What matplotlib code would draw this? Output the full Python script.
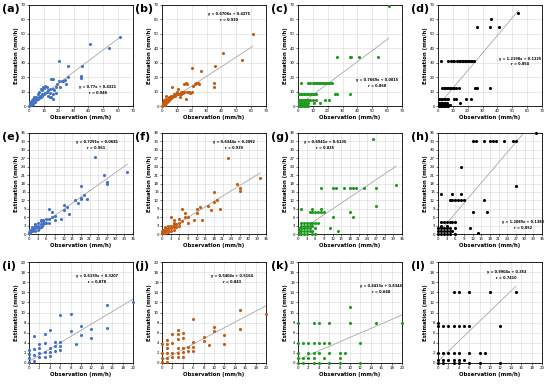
import matplotlib.pyplot as plt

# ---- data (obs, est) per panel ----
obs_a = [0.2, 0.5, 0.8, 1, 1, 1.5, 1.5, 2, 2, 2.5, 2.5, 3, 3, 3.5, 3.5, 4, 4, 4.5, 5, 5, 5.5, 6, 6,
         6.5, 7, 7, 7.5, 8, 8, 8.5, 9, 9, 9.5, 10, 10, 11, 11, 12, 12, 13, 13, 14, 14, 14, 15, 15,
         16, 16, 16, 16, 17, 18, 18, 19, 20, 20, 21, 22, 23, 24, 25, 26, 26, 35, 35, 36, 41, 54, 61]
est_a = [0.3, 1.0, 0.5, 1.5, 2.5, 1, 3, 2, 4, 1.5, 3, 2.5, 5, 3.5, 6, 3, 4.5, 5, 4, 6, 5, 5, 8,
         6, 5.5, 10, 7, 6.5, 12, 8, 7, 11, 13, 8, 12.5, 9, 14, 10, 13, 7, 11, 9, 12, 6, 6, 19,
         8, 19, 12, 5, 11, 13, 9, 15, 31, 17, 13, 17, 17.5, 18, 15, 20, 28, 21, 19.5, 28, 43, 40, 48]

obs_b = [0.2, 0.5, 0.8, 1, 1, 1.5, 1.5, 2, 2, 2.5, 2.5, 3, 3, 3.5, 4, 4, 4.5, 5, 5, 5.5, 6, 6,
         6.5, 7, 7, 7.5, 8, 8, 9, 9, 10, 10, 11, 11, 12, 12, 13, 13, 14, 14, 15, 15, 16, 16, 17,
         17, 18, 19, 20, 20, 21, 22, 23, 24, 25, 26, 35, 35, 36, 41, 54, 61]
est_b = [0.2, 0.8, 1.5, 0.5, 2.5, 1.5, 4, 1, 3, 2, 5, 2.5, 7, 3, 3.5, 5, 4, 4.5, 6, 5, 5.5, 7,
         6, 6, 13, 7, 7, 8, 7, 8, 8, 10, 8, 12, 6, 8.5, 8, 10, 9, 10, 10, 15, 5, 16, 10,
         15, 10, 9, 26, 10, 14, 15, 16, 16, 15, 24, 16, 13, 28, 37, 32, 50]

obs_c = [61, 26, 35, 36, 41, 54,
         2, 7, 8, 10, 11, 12, 13, 14, 15, 16, 17, 18, 19, 20, 21, 22, 23,
         1, 2, 3, 4, 5, 6, 7, 8, 9, 10, 11, 12, 25, 26, 35,
         1, 2, 3, 4, 5, 6, 7, 8, 10, 12, 18, 21,
         1, 2, 3, 4, 5, 6, 7, 11, 15,
         1, 2, 3, 4, 5, 6,
         1, 2, 3, 4, 5, 6, 7]
est_c = [69, 34, 34, 34, 34, 34,
         16, 16, 16, 16, 16, 16, 16, 16, 16, 16, 16, 16, 16, 16, 16, 16, 16,
         8, 8, 8, 8, 8, 8, 8, 8, 8, 8, 8, 8, 8, 8, 8,
         4, 4, 4, 4, 4, 4, 4, 4, 4, 4, 4, 4,
         2, 2, 2, 2, 2, 2, 2, 2, 2,
         1, 1, 1, 1, 1, 1,
         0, 0, 0, 0, 0, 0, 0]

obs_d = [54, 36, 26, 35, 41,
         2, 7, 9, 10, 11, 13, 14, 15, 16, 17, 18, 19, 20, 21, 22, 23, 24,
         3, 4, 5, 6, 7, 8, 9, 10, 11, 12, 14, 25, 26, 35,
         1, 2, 3, 4, 5, 6, 7, 11, 12, 19, 22,
         1, 2, 3, 4, 5, 6, 15,
         1, 2, 3, 4, 5, 6, 7, 8,
         1, 2, 3, 4, 5, 6, 7]
est_d = [64.5, 60, 54.5, 54.5, 54.5,
         31, 31, 31, 31, 31, 31, 31, 31, 31, 31, 31, 31, 31, 31, 31, 31, 31,
         12.5, 12.5, 12.5, 12.5, 12.5, 12.5, 12.5, 12.5, 12.5, 12.5, 12.5, 12.5, 12.5, 12.5,
         5, 5, 5, 5, 5, 5, 5, 5, 5, 5, 5,
         2, 2, 2, 2, 2, 2, 2,
         1, 1, 1, 1, 1, 1, 1, 1,
         0, 0, 0, 0, 0, 0, 0]

obs_e = [0, 0, 0.5, 0.5, 1, 1, 1, 1.5, 2, 2, 2, 2, 2.5, 3, 3, 3, 3, 3.5, 4, 4, 4, 4, 4.5, 5, 5,
         5, 5.5, 6, 6, 7, 7, 7, 8, 8, 9, 9, 11, 12, 12, 13, 14, 16, 17, 18, 18, 18, 19, 20, 23,
         26, 27, 27, 34]
est_e = [0.2, 0.8, 1.5, 0.5, 1, 2, 2.5, 1.5, 1, 2, 3, 3.5, 2.5, 1.5, 2.5, 3, 4, 2, 2.5, 3.5, 4.5,
         5, 3, 3.5, 4.5, 5, 4, 4, 5.5, 5.5, 9, 4, 6, 8, 5, 6.5, 5.5, 8.5, 10.5, 9.5, 7, 12, 11,
         12.5, 17, 13, 14, 12.5, 27.5, 21, 18, 18.5, 22]

obs_f = [0, 0, 0, 0.5, 1, 1, 1, 1, 2, 2, 2, 2, 3, 3, 3, 3, 4, 4, 4, 4, 4, 4, 5, 5, 6, 6, 6, 7,
         7, 8, 8, 9, 9, 11, 12, 12, 13, 14, 16, 17, 18, 18, 19, 20, 23, 26, 27, 27, 34]
est_f = [0.2, 0.6, 1.2, 1.5, 0.5, 1, 1.8, 2.5, 0.8, 1.5, 2.2, 3, 1, 2, 3, 6, 1.5, 2.5, 3, 3.5,
         4, 5, 2.5, 3.5, 3, 4, 5.5, 4.5, 9, 6, 7.5, 4, 6, 5, 7.5, 9, 9.5, 5, 10, 8.5, 11.5, 15,
         12, 9, 27, 18, 15.5, 16.5, 20]

obs_g = [26, 34, 8, 12, 13, 16, 18, 19, 20, 23, 27, 27, 1, 5, 8, 4, 5, 6, 7, 8, 9, 18, 12, 19,
         1, 2, 3, 4, 5, 6, 7, 1, 2, 3, 4, 5, 0.5, 1, 2, 3, 4, 6, 11,
         0.5, 1, 2, 3, 4, 5, 14, 0.5, 1, 2, 3, 5, 6]
est_g = [34, 17.5, 16.5, 16.5, 16.5, 16.5, 16.5, 16.5, 16.5, 16.5, 16.5, 10, 9, 9, 9, 8, 8, 8,
         8, 8, 8, 8, 6, 6, 4, 4, 4, 4, 4, 4, 4, 3, 3, 3, 3, 3, 2, 2, 2, 2, 2, 2, 2,
         1, 1, 1, 1, 1, 1, 1, 0, 0, 0, 0, 0, 0]

obs_h = [34, 12, 13, 16, 18, 19, 20, 23, 26, 27, 8, 27, 1, 5, 8, 4, 5, 6, 7, 8, 9, 16, 12, 17,
         1, 2, 3, 4, 5, 6, 1, 3, 0, 1, 2, 3, 4, 6, 11, 0, 1, 2, 3, 4, 5, 14, 0, 1, 2, 3, 4, 6]
est_h = [36, 33, 33, 33, 33, 33, 33, 33, 33, 33, 24, 17, 14.3, 14.3, 14.3, 12, 12, 12, 12, 12,
         12, 12, 8, 8, 4.3, 4.3, 4.3, 4.3, 4.3, 4.3, 3, 3, 2, 2, 2, 2, 2, 2, 2,
         1, 1, 1, 1, 1, 1, 0.5, 0, 0, 0, 0, 0, 0]

obs_i = [20, 15, 15, 12, 12, 10, 10, 9, 8, 8, 6, 6, 6, 6, 5, 5, 5, 4, 4, 4, 4, 3, 3, 3, 3,
         2, 2, 2, 2, 1, 1, 1, 1, 0, 0, 0, 0]
est_i = [12, 11.5, 7, 6.7, 5, 7.4, 5.6, 3.8, 9.8, 6.3, 9.6, 4.2, 3.3, 2.5, 4.1, 3.4, 2.4, 6.6,
         3, 2.1, 1.3, 5.7, 3.9, 2.1, 1.2, 3.8, 2.9, 2, 1.2, 5.4, 2.7, 1.5, 0.3, 2.6, 1.8, 0.9, 0.1]

obs_j = [20, 15, 15, 12, 12, 10, 10, 9, 8, 8, 6, 6, 6, 6, 5, 5, 4, 4, 4, 4, 4, 3, 3, 3, 3, 3,
         3, 2, 2, 2, 2, 1, 1, 1, 1, 1, 1, 0, 0, 0, 0]
est_j = [9.8, 10.4, 6.7, 5.6, 3.8, 7.2, 6.4, 3.5, 5.2, 4.3, 8.7, 4.2, 3.2, 2.3, 3.2, 2.3, 5.9,
         4.9, 3, 2.1, 1.2, 6.6, 5.8, 4.8, 3, 2, 1.2, 5.7, 3.9, 2, 1.2, 4.6, 3.8, 2.9, 2, 0.9, 0.2,
         3.8, 2, 0.9, 0.1]

obs_k = [20, 15, 10, 10, 12, 12, 6, 4, 3, 0, 0, 1, 2, 3, 4, 5, 6, 0, 2, 3, 4, 6, 8, 9,
         0, 1, 2, 3, 5, 8, 0, 1, 3, 4, 6, 8]
est_k = [8, 8, 11, 8, 4, 0, 8, 8, 8, 8, 4, 4, 4, 4, 4, 4, 4, 2, 2, 2, 2, 2, 2, 2,
         1, 1, 1, 1, 1, 1, 0, 0, 0, 0, 0, 0]

obs_l = [3, 4, 6, 10, 15, 0, 1, 2, 3, 4, 5, 6, 12, 0, 0, 1, 2, 3, 4, 6, 8, 9,
         0, 1, 2, 3, 4, 5, 0, 1, 3, 4, 6, 8, 12]
est_l = [14, 14, 14, 14, 14, 7.4, 7.4, 7.4, 7.4, 7.4, 7.4, 7.4, 7.4, 8, 2, 2, 2, 2, 2, 2, 2, 2,
         0.5, 0.5, 0.5, 0.5, 0.5, 0.5, 0, 0, 0, 0, 0, 0, 0]

labels = ["(a)", "(b)", "(c)", "(d)", "(e)", "(f)", "(g)", "(h)", "(i)", "(j)", "(k)", "(l)"]
slopes = [0.77, 0.6706, 0.7669, 1.2198, 0.7291, 0.6344, 0.6941, 1.2089, 0.6159, 0.5404, 0.4433, 0.9904]
intercepts = [0.4321, 0.4275, 0.0815, 0.1225, 0.0681, 0.2092, 0.6135, 0.1383, 0.3207, 0.5164, 0.6344, 0.353]
eq_texts = ["y = 0.77x + 0.4321", "y = 0.6706x + 0.4275", "y = 0.7669x + 0.0815",
            "y = 1.2198x + 0.1225", "y = 0.7291x + 0.0681", "y = 0.6344x + 0.2092",
            "y = 0.6941x + 0.6135", "y = 1.2089x + 0.1383", "y = 0.6159x + 0.3207",
            "y = 0.5404x + 0.5164", "y = 0.4433x + 0.6344", "y = 0.9904x + 0.353"]
r_texts = ["r = 0.946", "r = 0.930", "r = 0.868", "r = 0.854", "r = 0.961", "r = 0.939",
           "r = 0.835", "r = 0.852", "r = 0.878", "r = 0.843", "r = 0.668", "r = 0.7410"]

obs_all = [obs_a, obs_b, obs_c, obs_d, obs_e, obs_f, obs_g, obs_h, obs_i, obs_j, obs_k, obs_l]
est_all = [est_a, est_b, est_c, est_d, est_e, est_f, est_g, est_h, est_i, est_j, est_k, est_l]

colors = ["#4472C4", "#C55A11", "#1E9B1E", "#000000"]
row_max = [70, 36, 20]
row_step = [10, 3, 2]
# annotation position (axes fraction, centre of text block)
text_pos = [(0.66, 0.16), (0.64, 0.885), (0.76, 0.23), (0.79, 0.44),
            (0.65, 0.885), (0.69, 0.885), (0.26, 0.885), (0.82, 0.09),
            (0.65, 0.83), (0.67, 0.83), (0.80, 0.73), (0.66, 0.875)]

W, H = 550, 387
col_left = [29, 162, 298, 438]
row_top = [5, 133, 262]
ax_w, ax_h = 104, 101

fig = plt.figure(figsize=(5.5, 3.87), dpi=100)

for k in range(12):
    r, c = divmod(k, 4)
    left = col_left[c] / W
    bottom = 1 - (row_top[r] + ax_h) / H
    ax = fig.add_axes([left, bottom, ax_w / W, ax_h / H])

    mx = row_max[r]
    ticks = list(range(0, mx + 1, row_step[r]))
    ax.set_xlim(0, mx)
    ax.set_ylim(0, mx)
    ax.set_xticks(ticks)
    ax.set_yticks(ticks)
    ax.tick_params(labelsize=2.8, length=1.2, width=0.4, pad=1)
    ax.grid(True, color="#d9d9d9", lw=0.4)
    ax.set_axisbelow(True)
    for s in ax.spines.values():
        s.set_linewidth(0.6)

    xs, ys = obs_all[k], est_all[k]
    ax.scatter(xs, ys, s=5, color=colors[c], lw=0, zorder=3, clip_on=False)

    x1 = max(xs)
    ax.plot([0, x1], [intercepts[k], slopes[k] * x1 + intercepts[k]],
            color="#a6a6a6", lw=0.6, zorder=2)

    tx, ty = text_pos[k]
    ax.text(tx, ty, eq_texts[k] + "\n" + r_texts[k], transform=ax.transAxes,
            ha="center", va="center", fontsize=2.5, fontweight="bold",
            linespacing=1.6, zorder=4)

    ax.set_xlabel("Observation (mm/h)", fontsize=3.9, fontweight="bold", labelpad=1.5)
    ax.set_ylabel("Estimation (mm/h)", fontsize=3.9, fontweight="bold", labelpad=1.5)

    fig.text((col_left[c] - 27) / W, 1 - (row_top[r] - 1) / H, labels[k],
             fontsize=8, fontweight="bold", ha="left", va="top")

fig.savefig("out.png", dpi=100)
